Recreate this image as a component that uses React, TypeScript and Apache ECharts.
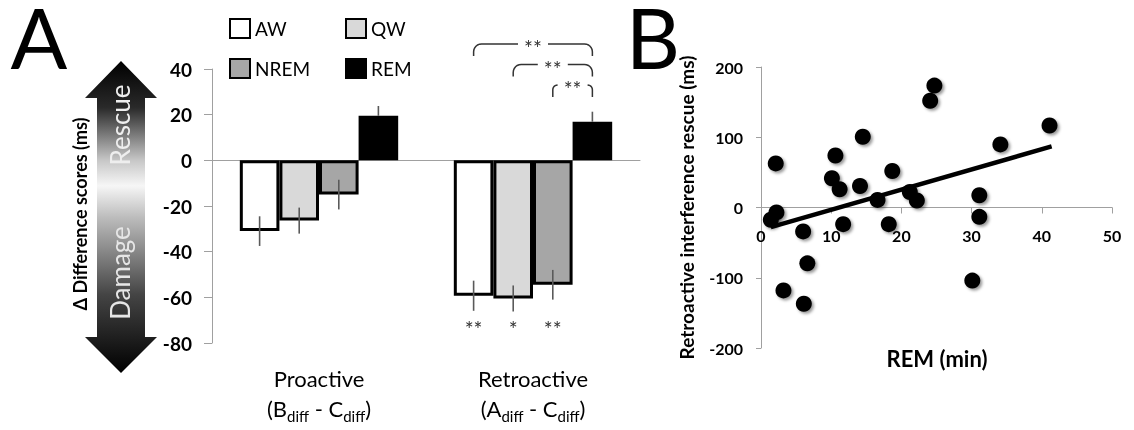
import React, { useEffect, useRef } from 'react';
import * as echarts from 'echarts';

// ---------- Panel A data ----------
const categories = ['Proactive', 'Retroactive'];
const catSubLetters = [['B', 'C'], ['A', 'C']];
const stateNames = ['AW', 'QW', 'NREM', 'REM'];
const stateColors = ['#ffffff', '#d9d9d9', '#a6a6a6', '#000000'];
const meanAW = [-31, -59.3];
const meanQW = [-26.4, -60.5];
const meanNREM = [-15, -54.5];
const meanREM = [19.5, 16.9];
const errAW = [6.5, 6.6];
const errQW = [5.7, 5.7];
const errNREM = [6.5, 6.5];
const errREM = [4.3, 4.4];
const barAxisMin = -80;
const barAxisMax = 40;
const barAxisStep = 20;
const belowStars = ['**', '*', '**']; // retroactive AW, QW, NREM vs zero
const belowStarLevel = -72;
const bracketFrom = [0, 1, 2]; // compared with REM (series 3), retroactive
const bracketLevels = [51, 42, 33];
const bracketStars = ['**', '**', '**'];

// ---------- Panel B data ----------
const remMinutes = [2.1, 2.2, 1.4, 6.0, 6.6, 3.2, 6.1, 10.6, 10.1, 11.2, 11.7, 14.1, 14.5, 16.6, 18.2, 18.7, 21.2, 22.2, 24.1, 24.7, 30.1, 31.1, 31.1, 34.1, 41.1];
const retroRescue = [62.8, -7, -17.5, -34, -79.5, -118, -137, 74, 41.6, 26, -23.7, 30.6, 100.7, 10.8, -23.7, 52, 22, 9.9, 152, 173.5, -104, 17.4, -13.3, 89.8, 116.7];
const trendX = [1.4, 41.4];
const trendY = [-28, 87];

const FONT = 'Lato';
const BAR_GAP = 0.26;
const RIGHT_GRID_H = 281;
const STAR_SIZE = 21;
const STAR_DY = 4;

export default function App() {
  const ref = useRef<HTMLDivElement>(null);
  useEffect(() => {
    if (!ref.current) return;
    const chart = echarts.init(ref.current, undefined, { renderer: 'svg' });
    const means = [meanAW, meanQW, meanNREM, meanREM];
    const errs = [errAW, errQW, errNREM, errREM];

    const errData: number[][] = [];
    means.forEach((m, j) => m.forEach((v, i) => errData.push([i, v, errs[j][i], j])));

    const barSeries = stateNames.map((name, j) => ({
      name,
      type: 'bar',
      xAxisIndex: 0,
      yAxisIndex: 0,
      data: means[j],
      barGap: '0%',
      barCategoryGap: BAR_GAP * 100 + '%',
      itemStyle: { color: stateColors[j], borderColor: '#000', borderWidth: 3 },
      z: 2,
    }));

    const barOffset = (api: any, j: number) => {
      const band = api.size([1, 0])[0];
      const w = (band * (1 - BAR_GAP)) / 4;
      return (j - 1.5) * w;
    };

    const txt = (text: string, x: number, y: number, size: number, color: string, weight = 'normal', rot = 0, lh?: number) => ({
      type: 'text',
      x,
      y,
      rotation: rot,
      style: {
        text,
        fill: color,
        fontSize: size,
        fontFamily: FONT,
        fontWeight: weight,
        lineHeight: lh,
        align: 'center',
        verticalAlign: 'middle',
        textAlign: 'center',
        textVerticalAlign: 'middle',
      },
    });

    const legendBase = {
      orient: 'vertical',
      top: 13,
      itemWidth: 20,
      itemHeight: 19,
      itemGap: 19,
      icon: 'rect',
      itemStyle: { borderColor: '#000', borderWidth: 2 },
      textStyle: { fontSize: 19, fontFamily: FONT, color: '#000' },
      selectedMode: false,
    };

    const option: any = {
      animation: false,
      textStyle: { fontFamily: FONT },
      grid: [
        { left: 212, top: 69, width: 428, height: 274, outerBoundsMode: 'none', containLabel: false },
        { left: 761, top: 67, width: 351, height: RIGHT_GRID_H, outerBoundsMode: 'none', containLabel: false },
      ],
      legend: [
        { ...legendBase, data: ['AW', 'NREM'], left: 224 },
        { ...legendBase, data: ['QW', 'REM'], left: 340 },
      ],
      xAxis: [
        {
          type: 'category',
          gridIndex: 0,
          data: categories,
          axisLine: { onZero: true, lineStyle: { color: '#a0a0a0', width: 1 } },
          axisTick: { show: false },
          axisLabel: {
            margin: 20,
            interval: 0,
            formatter: (v: string, i: number) =>
              `{n|${v}}\n{n|(${catSubLetters[i][0]}}{s|diff}{n| - ${catSubLetters[i][1]}}{s|diff}{n|)}`,
            rich: {
              n: { fontSize: 22, lineHeight: 30, fontFamily: FONT, color: '#000' },
              s: { fontSize: 15, lineHeight: 11, fontFamily: FONT, color: '#000', verticalAlign: 'bottom' },
            },
          },
          splitLine: { show: false },
        },
        {
          type: 'value',
          gridIndex: 1,
          min: 0,
          max: 50,
          interval: 10,
          offset: -RIGHT_GRID_H / 2,
          axisLine: { onZero: false, lineStyle: { color: '#a0a0a0', width: 1 } },
          axisTick: { show: true, length: 6, lineStyle: { color: '#a0a0a0' } },
          axisLabel: { margin: 20, fontSize: 16, fontWeight: 'bold', color: '#000', fontFamily: FONT },
          splitLine: { show: false },
        },
      ],
      yAxis: [
        {
          type: 'value',
          gridIndex: 0,
          min: barAxisMin,
          max: barAxisMax,
          interval: barAxisStep,
          axisLine: { show: true, lineStyle: { color: '#a0a0a0', width: 1 } },
          axisTick: { show: true, length: 8, lineStyle: { color: '#a0a0a0' } },
          axisLabel: { margin: 20, fontSize: 19, fontWeight: 'bold', color: '#000', fontFamily: FONT },
          splitLine: { show: false },
        },
        {
          type: 'value',
          gridIndex: 1,
          min: -200,
          max: 200,
          interval: 100,
          axisLine: { show: true, lineStyle: { color: '#a0a0a0', width: 1 } },
          axisTick: { show: true, length: 5, lineStyle: { color: '#a0a0a0' } },
          axisLabel: { margin: 18, fontSize: 16, fontWeight: 'bold', color: '#000', fontFamily: FONT },
          splitLine: { show: false },
          name: 'Retroactive interference rescue (ms)',
          nameLocation: 'middle',
          nameGap: 65,
          nameRotate: 90,
          nameTextStyle: { fontSize: 19, fontWeight: 'bold', color: '#000', fontFamily: FONT },
        },
      ],
      series: [
        ...barSeries,
        {
          type: 'custom',
          xAxisIndex: 0,
          yAxisIndex: 0,
          z: 5,
          silent: true,
          data: errData,
          renderItem: (params: any, api: any) => {
            const cat = api.value(0);
            const v = api.value(1);
            const e = api.value(2);
            const j = api.value(3);
            const x = api.coord([cat, v])[0] + barOffset(api, j);
            const lo = v > 0 ? v : v - e;
            const hi = v + e;
            return {
              type: 'line',
              shape: { x1: x, y1: api.coord([cat, lo])[1], x2: x, y2: api.coord([cat, hi])[1] },
              style: { stroke: '#5a5a5a', lineWidth: 1.6 },
            };
          },
        },
        {
          type: 'custom',
          xAxisIndex: 0,
          yAxisIndex: 0,
          z: 5,
          silent: true,
          clip: false,
          data: belowStars.map((_, j) => [1, belowStarLevel, j]),
          renderItem: (params: any, api: any) => {
            const j = api.value(2);
            const c = api.coord([api.value(0), api.value(1)]);
            return txt(belowStars[j], c[0] + barOffset(api, j), c[1] + STAR_DY, STAR_SIZE, '#333');
          },
        },
        {
          type: 'custom',
          xAxisIndex: 0,
          yAxisIndex: 0,
          z: 5,
          silent: true,
          clip: false,
          data: bracketLevels.map((lvl, k) => [1, lvl, k]),
          renderItem: (params: any, api: any) => {
            const k = api.value(2);
            const c = api.coord([api.value(0), api.value(1)]);
            const xL = c[0] + barOffset(api, bracketFrom[k]);
            const xR = c[0] + barOffset(api, 3);
            const y = c[1];
            const mid = (xL + xR) / 2;
            const gap = 15;
            const drop = 12;
            const r = Math.max(2, Math.min(8, mid - gap - xL));
            const corner = (sx: number, sign: number) => {
              const pts: number[][] = [[sx, y + drop]];
              for (let a = 0; a <= 90; a += 15) {
                const rad = (a * Math.PI) / 180;
                pts.push([sx + sign * (r - r * Math.cos(rad)), y + r - r * Math.sin(rad)]);
              }
              return pts;
            };
            const left = corner(xL, 1);
            left.push([mid - gap, y]);
            const right = corner(xR, -1);
            right.push([mid + gap, y]);
            const ls = { stroke: '#333', lineWidth: 1.5, fill: null };
            return {
              type: 'group',
              children: [
                { type: 'polyline', shape: { points: left }, style: ls },
                { type: 'polyline', shape: { points: right }, style: ls },
                txt(bracketStars[k], mid, y + STAR_DY, STAR_SIZE, '#333'),
              ],
            };
          },
        },
        {
          type: 'line',
          xAxisIndex: 1,
          yAxisIndex: 1,
          data: trendX.map((x, i) => [x, trendY[i]]),
          symbol: 'none',
          lineStyle: { color: '#000', width: 4.5 },
          z: 2,
          silent: true,
        },
        {
          type: 'scatter',
          xAxisIndex: 1,
          yAxisIndex: 1,
          data: remMinutes.map((x, i) => [x, retroRescue[i]]),
          symbol: 'circle',
          symbolSize: 16,
          itemStyle: {
            color: '#000',
            opacity: 1,
            shadowBlur: 3,
            shadowColor: 'rgba(0,0,0,0.4)',
            shadowOffsetX: 2,
            shadowOffsetY: 2,
          },
          z: 3,
          silent: true,
        },
      ],
      graphic: [
        txt('A', 39, 36, 84, '#000', 'normal', 0, 64),
        txt('B', 653, 36, 84, '#000', 'normal', 0, 64),
        {
          type: 'polygon',
          shape: {
            points: [
              [121, 61], [157, 98], [145, 98], [145, 337], [157, 337],
              [121, 373], [85, 337], [97, 337], [97, 98], [85, 98],
            ],
          },
          style: {
            fill: new echarts.graphic.LinearGradient(0, 0, 0, 1, [
              { offset: 0, color: '#000000' },
              { offset: 0.15, color: '#2a2a2a' },
              { offset: 0.32, color: '#c8c8c8' },
              { offset: 0.4, color: '#f6f6f6' },
              { offset: 0.5, color: '#bdbdbd' },
              { offset: 0.75, color: '#444444' },
              { offset: 1, color: '#000000' },
            ]),
          },
        },
        txt('Rescue', 120, 125, 26, '#eeeeee', 'normal', Math.PI / 2),
        txt('Damage', 120, 273, 26, '#e6e6e6', 'normal', Math.PI / 2),
        txt('Δ Difference scores (ms)', 80, 214, 18, '#000', 'bold', Math.PI / 2),
        txt('REM (min)', 937, 358, 22, '#000', 'bold'),
      ],
    };
    chart.setOption(option);
    return () => chart.dispose();
  }, []);
  return <div ref={ref} style={{ position: 'fixed', left: 0, top: 0, width: 1134, height: 430 }} />;
}
